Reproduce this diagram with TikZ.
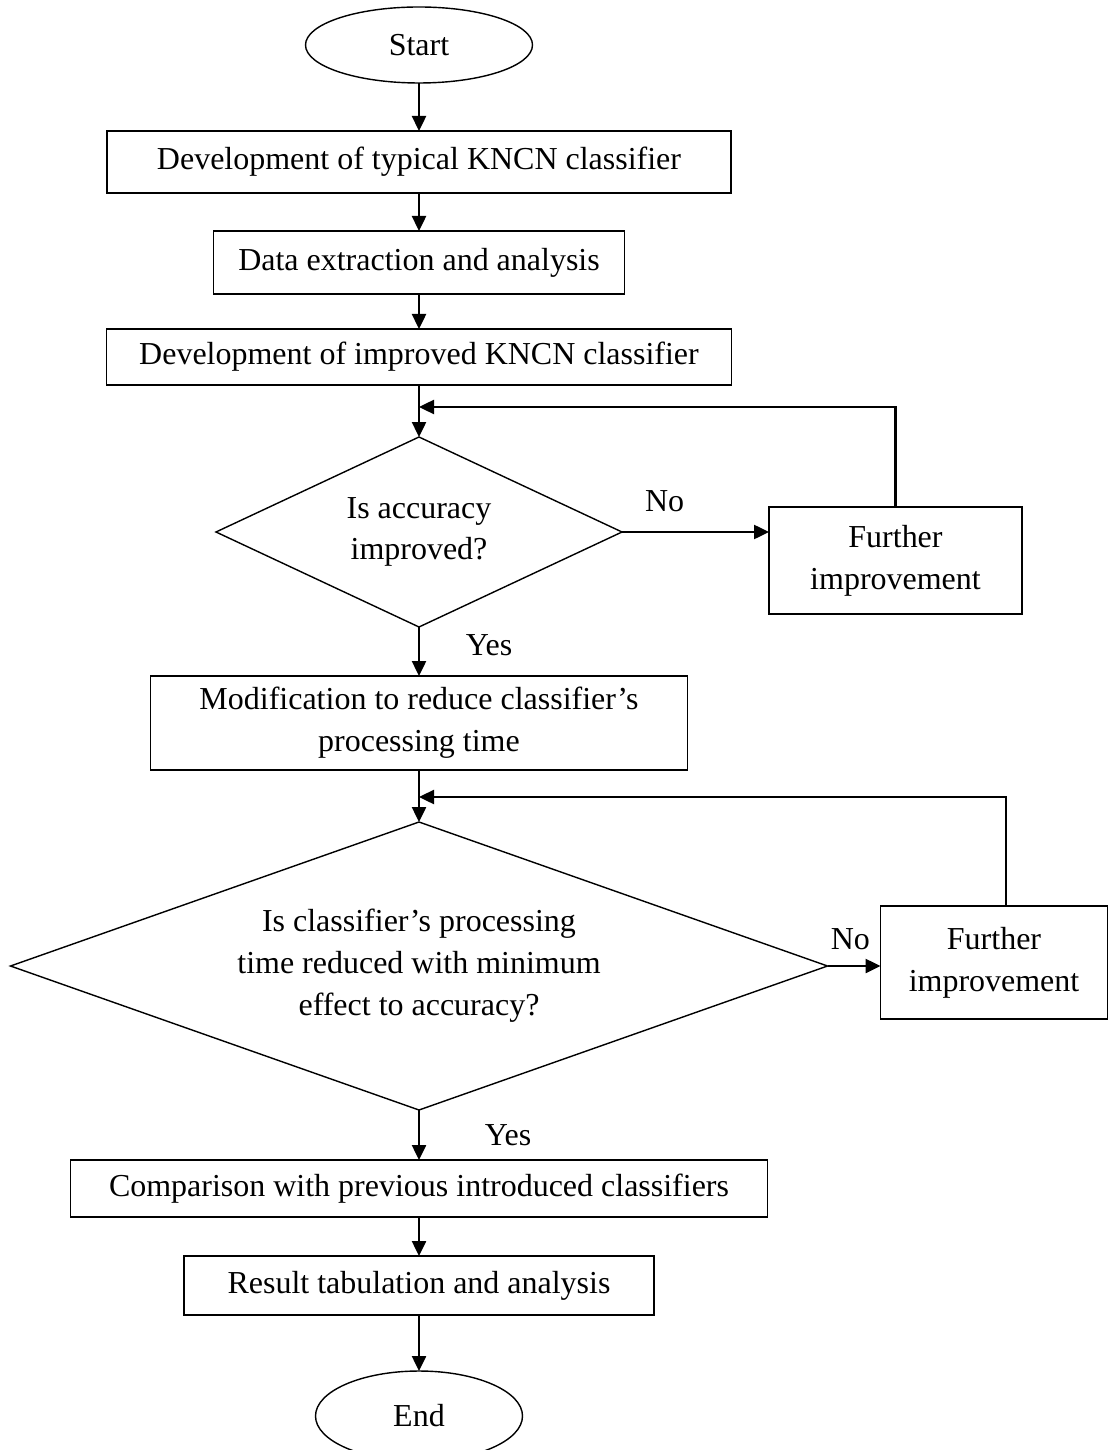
\documentclass[tikz,border=0pt]{standalone}
\usepackage{fontspec}
\setmainfont{Liberation Serif}
\usetikzlibrary{shapes.geometric, arrows.meta, positioning}

\begin{document}
\begin{tikzpicture}[
    node distance=0.45cm and 0.6cm,
    font=\fontsize{9.1}{11.9}\selectfont,
    block/.style={rectangle, draw, line width=0.4pt, outer sep=0pt, align=center, inner sep=2pt},
    terminal/.style={ellipse, draw, line width=0.4pt, outer sep=0pt, inner sep=0pt},
    decision/.style={diamond, draw, line width=0.4pt, outer sep=0pt, align=center, inner sep=0pt},
    arrow/.style={-{Triangle[length=1.5mm, width=1.4mm]}, line width=0.7pt},
    label_style/.style={inner sep=1pt}
]
\useasboundingbox (0,0) rectangle (11.07,-14.50);

% Nodes
\node[terminal, minimum width=2.27cm, minimum height=0.76cm] (start) at (4.19,-0.45) {Start};
\node[block, below=0.48cm of start, minimum width=6.24cm, minimum height=0.62cm] (typical) {Development of typical KNCN classifier};
\node[block, below=0.38cm of typical, minimum width=4.11cm, minimum height=0.63cm] (extract) {Data extraction and analysis};
\node[block, below=0.35cm of extract, minimum width=6.25cm, minimum height=0.56cm] (improved) {Development of improved KNCN classifier};
\node[decision, below=0.52cm of improved, minimum width=4.06cm, minimum height=1.90cm, shape aspect=2.14] (accuracy) {Is accuracy\\improved?};
\node[block, right=1.47cm of accuracy, yshift=-0.285cm, minimum width=2.53cm, minimum height=1.07cm] (further1) {Further\\improvement};
\node[block, below=0.49cm of accuracy, minimum width=5.37cm, minimum height=0.94cm] (modify) {Modification to reduce classifier's\\processing time};
\node[decision, below=0.52cm of modify, minimum width=8.17cm, minimum height=2.88cm, shape aspect=2.84] (timecheck) {Is classifier's processing\\time reduced with minimum\\effect to accuracy?};
\node[block, right=0.53cm of timecheck, yshift=0.035cm, minimum width=2.27cm, minimum height=1.13cm] (further2) {Further\\improvement};
\node[block, below=0.50cm of timecheck, minimum width=6.97cm, minimum height=0.57cm] (compare) {Comparison with previous introduced classifiers};
\node[block, below=0.39cm of compare, minimum width=4.70cm, minimum height=0.59cm] (result) {Result tabulation and analysis};
\node[terminal, below=0.56cm of result, minimum width=2.07cm, minimum height=0.90cm] (end) {End};

% Joins of the loops
\coordinate (join1) at ([yshift=-0.22cm]improved.south);
\coordinate (join2) at ([yshift=-0.27cm]modify.south);

% Arrows
\draw[arrow] (start) -- (typical);
\draw[arrow] (typical) -- (extract);
\draw[arrow] (extract) -- (improved);
\draw[arrow] (improved) -- (accuracy);
\draw[arrow] (accuracy.east) -- node[pos=0.29, above=0.155cm, label_style] {No} (accuracy.east -| further1.west);
\draw[arrow] (further1.north) |- (join1);
\draw[arrow] (accuracy) -- node[pos=0.37, right=0.42cm, label_style] {Yes} (modify);
\draw[arrow] (modify) -- (timecheck);
\draw[arrow] (timecheck.east) -- node[pos=0.43, above=0.115cm, label_style] {No} (timecheck.east -| further2.west);
\draw[arrow] ([xshift=0.12cm]further2.north) |- (join2);
\draw[arrow] (timecheck) -- node[pos=0.5, right=0.61cm, label_style] {Yes} (compare);
\draw[arrow] (compare) -- (result);
\draw[arrow] (result) -- (end);

\end{tikzpicture}
\end{document}
